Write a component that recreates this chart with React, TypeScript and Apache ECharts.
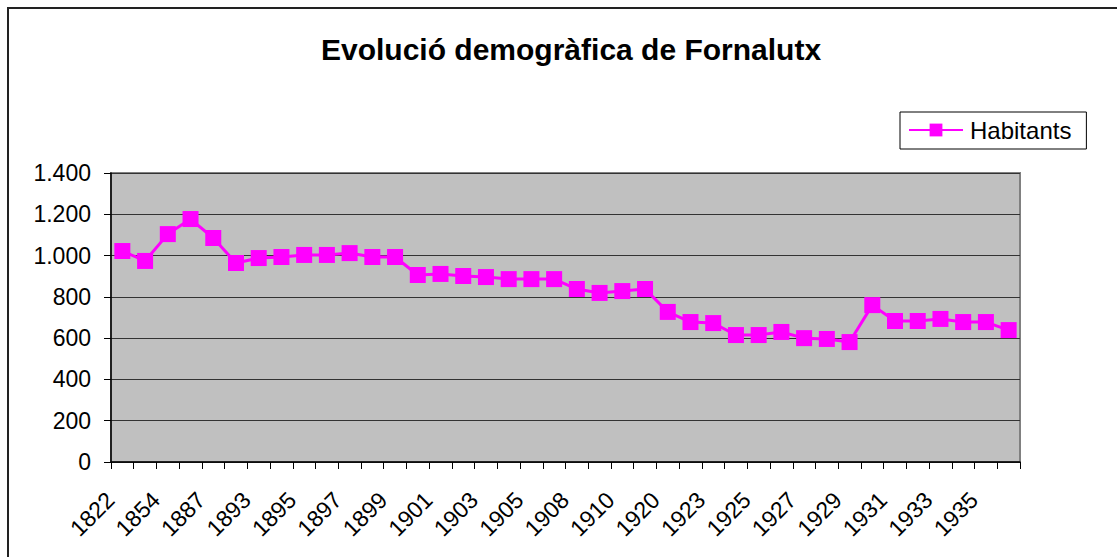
import React, { useEffect, useRef } from "react";
import * as echarts from "echarts";

const TITLE = "Evolució demogràfica de Fornalutx";
const SERIES_NAME = "Habitants";

const years: string[] = [
  "1822", "1842", "1854", "1860", "1887", "1892", "1893", "1894", "1895", "1896",
  "1897", "1898", "1899", "1900", "1901", "1902", "1903", "1904", "1905", "1906",
  "1908", "1909", "1910", "1911", "1920", "1921", "1923", "1924", "1925", "1926",
  "1927", "1928", "1929", "1930", "1931", "1932", "1933", "1934", "1935", "1936",
];

const habitants: number[] = [
  1022, 974, 1104, 1177, 1085, 964, 988, 993, 1003, 1003,
  1012, 993, 993, 906, 911, 901, 896, 886, 886, 886,
  838, 819, 828, 838, 727, 678, 673, 615, 615, 630,
  600, 596, 581, 760, 683, 683, 693, 678, 678, 639,
];

const yTicks = { min: 0, max: 1400, interval: 200 };

const FONT = "Arial, 'Liberation Sans', sans-serif";

export default function App() {
  const ref = useRef<HTMLDivElement>(null);
  useEffect(() => {
    if (!ref.current) return;
    const chart = echarts.init(ref.current, null, { renderer: "svg" });
    chart.setOption({
      animation: false,
      backgroundColor: "#ffffff",
      textStyle: { fontFamily: FONT },
      title: {
        text: TITLE,
        left: 316,
        top: 29,
        textStyle: { fontFamily: FONT, fontSize: 30, fontWeight: "bold", color: "#000" },
      },
      legend: {
        data: [SERIES_NAME],
        left: 900,
        top: 112,
        padding: [6, 15, 7, 8],
        itemWidth: 54,
        itemHeight: 16,
        itemGap: 0,
        borderColor: "#000",
        borderWidth: 1,
        backgroundColor: "#fff",
        textStyle: { fontFamily: FONT, fontSize: 24, color: "#000", padding: [0, 0, 0, 2] },
      },
      graphic: [
        {
          type: "polyline",
          shape: { points: [[8, 557], [8, 8], [1117, 8]] },
          style: { stroke: "#222", lineWidth: 2, fill: "none" },
          silent: true,
        },
      ],
      grid: {
        left: 111,
        right: 97,
        top: 173,
        bottom: 95,
        show: true,
        backgroundColor: "#C0C0C0",
        borderColor: "#808080",
        borderWidth: 2,
      },
      xAxis: {
        type: "category",
        data: years,
        boundaryGap: true,
        axisLine: { show: true, lineStyle: { color: "#000", width: 1.5 } },
        axisTick: { show: true, interval: 0, length: 7, lineStyle: { color: "#000" } },
        axisLabel: {
          interval: 1,
          rotate: 45,
          margin: 22,
          padding: [0, 17, 0, 0],
          fontSize: 23,
          color: "#000",
          fontFamily: FONT,
        },
        splitLine: { show: false },
      },
      yAxis: {
        type: "value",
        min: yTicks.min,
        max: yTicks.max,
        interval: yTicks.interval,
        axisLine: { show: true, lineStyle: { color: "#000", width: 1.5 } },
        axisTick: { show: true, length: 7, lineStyle: { color: "#000" } },
        axisLabel: {
          fontSize: 23,
          color: "#000",
          margin: 20,
          fontFamily: FONT,
          formatter: (v: number) => v.toLocaleString("de-DE"),
        },
        splitLine: { show: true, lineStyle: { color: "#333", width: 1.2 } },
      },
      series: [
        {
          name: SERIES_NAME,
          type: "line",
          data: habitants,
          symbol: "rect",
          symbolSize: 16,
          showAllSymbol: true,
          itemStyle: { color: "#FF00FF" },
          lineStyle: { color: "#FF00FF", width: 3 },
        },
      ],
    });
    return () => chart.dispose();
  }, []);
  return (
    <div
      ref={ref}
      style={{ position: "fixed", left: 0, top: 0, width: 1117, height: 557 }}
    />
  );
}
